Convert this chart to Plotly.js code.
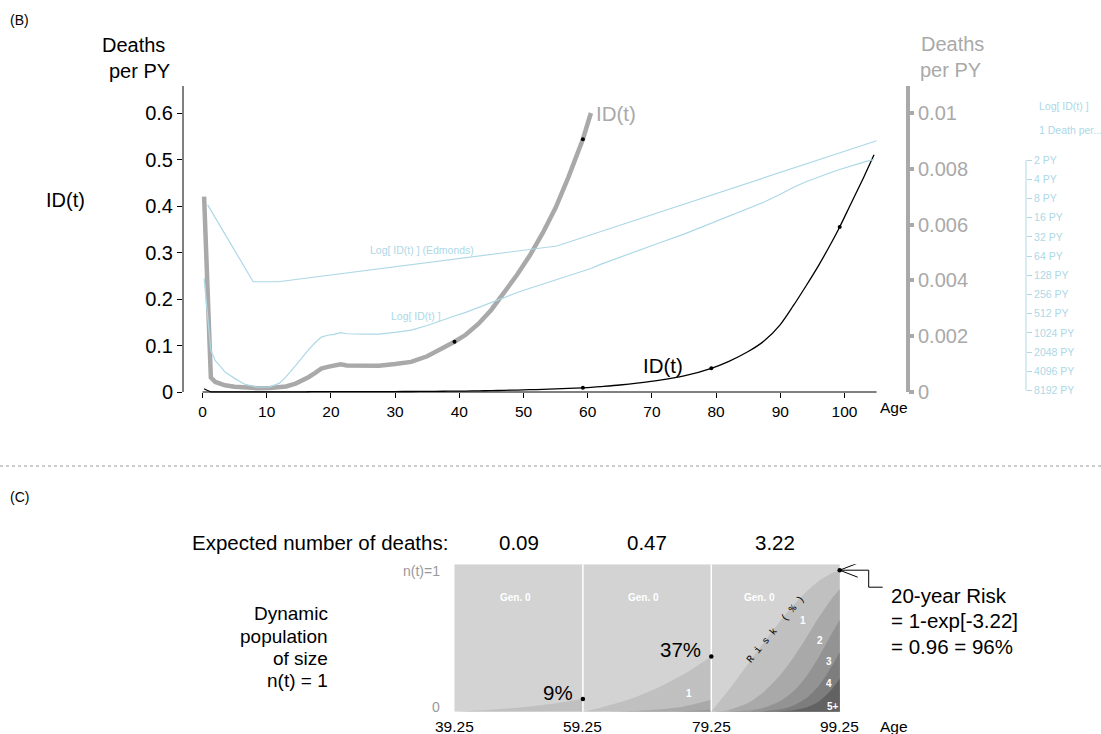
<!DOCTYPE html>
<html><head><meta charset="utf-8">
<script src="https://cdn.plot.ly/plotly-3.0.1.min.js"></script>
<style>html,body{margin:0;padding:0;background:#fff}</style>
</head><body><div id="chart" style="width:1101px;height:734px"></div>
<script>
// ---------- Panel (B) data ----------
const ages = [0.25, 1.3, 2, 3.5, 5, 6.5, 8.5, 10.5, 12, 13, 14.5, 15.5, 16.5, 17.5, 18.5, 19.5, 20.5, 21.5, 22.5, 25, 27.5, 30, 32.5, 35, 37.5, 39.25, 41, 43, 45, 47, 49, 51, 53, 55, 57, 59.25, 60.5, 62, 65, 68, 71, 75, 79.25, 82, 85, 87.5, 90, 92, 94, 96, 98, 99.25, 101, 103, 104.6];
const idPerPY = [0.0070, 0.00052, 0.00036, 0.00024, 0.00019, 0.000155, 0.000138, 0.000140, 0.000160, 0.000200, 0.00030, 0.00040, 0.00053, 0.00068, 0.00084, 0.00090, 0.00093, 0.00099, 0.00095, 0.00094, 0.00094, 0.00100, 0.00108, 0.00128, 0.00158, 0.00180, 0.00205, 0.00245, 0.00295, 0.00355, 0.00420, 0.00490, 0.00570, 0.00660, 0.00770, 0.00906, 0.0100, 0.0116, 0.0150, 0.0195, 0.0248, 0.0345, 0.0510, 0.066, 0.087, 0.110, 0.145, 0.185, 0.228, 0.273, 0.322, 0.355, 0.405, 0.462, 0.510];
const grayCurveMaxAge = 60.5;
const edmondsAge = [0.8, 7.9, 11.8, 55.2, 105];
const edmondsID = [0.099, 0.0062, 0.0062, 0.0225, 1.0];
const grayDotAges = [39.25, 59.25];
const blackDotAges = [59.25, 79.25, 99.25];
const ageTicks = [0, 10, 20, 30, 40, 50, 60, 70, 80, 90, 100];
const leftTicks = [0, 0.1, 0.2, 0.3, 0.4, 0.5, 0.6];
const leftTickText = ['0', '0.1', '0.2', '0.3', '0.4', '0.5', '0.6'];
const rightTicks = [0, 0.002, 0.004, 0.006, 0.008, 0.01];
const rightTickText = ['0', '0.002', '0.004', '0.006', '0.008', '0.01'];
const pyPerDeath = [2, 4, 8, 16, 32, 64, 128, 256, 512, 1024, 2048, 4096, 8192];

// ---------- Panel (C) data ----------
const popStart = [39.25, 59.25, 79.25];
const popTickText = ['39.25', '59.25', '79.25', '99.25'];
const expectedDeaths = ['0.09', '0.47', '3.22'];
const riskLabels = ['9%', '37%'];
const block1Age = [39.25, 41, 43, 45, 47, 49, 51, 53, 55, 57, 59.25];
const block1Gen = [
  [0, 0.0034, 0.0079, 0.0132, 0.0196, 0.0271, 0.0359, 0.0461, 0.0578, 0.0711, 0.086]
];
const block2Age = [59.25, 62, 65, 68, 71, 75, 79.25];
const block2Gen = [
  [0, 0.027, 0.064, 0.109, 0.164, 0.255, 0.375],
  [0, 0.0004, 0.0021, 0.0062, 0.0143, 0.0356, 0.081],
  [0, 0, 0.0001, 0.0003, 0.0009, 0.0034, 0.012]
];
const block3Age = [79.25, 82, 85, 87.5, 90, 92, 94, 96, 98, 99.25];
const block3Gen = [
  [0, 0.150, 0.326, 0.475, 0.616, 0.720, 0.812, 0.887, 0.939, 0.960],
  [0, 0.012, 0.060, 0.137, 0.249, 0.364, 0.498, 0.640, 0.767, 0.831],
  [0, 0.0006, 0.0077, 0.028, 0.073, 0.137, 0.236, 0.371, 0.528, 0.624],
  [0, 0, 0.0008, 0.0043, 0.0166, 0.041, 0.089, 0.176, 0.306, 0.402],
  [0, 0, 0.0001, 0.0005, 0.0031, 0.0099, 0.028, 0.070, 0.151, 0.223]
];
const genLabels3 = ['1', '2', '3', '4', '5+'];
const genLabelAge3 = [93.5, 96.2, 97.6, 97.6, 98.2];
const genLabelY3 = [0.622, 0.482, 0.339, 0.193, 0.034];
const genLabelAge2 = [75.8];
const genLabelY2 = [0.125];
const gen0LabelAge = [48.7, 68.7, 86.7];

// ---------- styling ----------
const W = 1101, H = 734;
const FONT = 'Liberation Sans, Arial, Helvetica, sans-serif';
const LB = '#add8e6', GR = '#a9a9a9';
const genColors = ['#c0c0c0', '#a9a9a9', '#939393', '#7d7d7d', '#626262'];
const PX_PER_YR = 6.42, AGE0_PX = 202.5;
const xRange = [(183 - AGE0_PX) / PX_PER_YR, (908 - AGE0_PX) / PX_PER_YR];
const Y_PX_PER_UNIT = 465, Y0_PX = 392;
const yRange = [(Y0_PX - 396) / Y_PX_PER_UNIT, (Y0_PX - 86) / Y_PX_PER_UNIT];
const y2Range = yRange.map(v => v / 60);
const LOG_PX = 19.22 / Math.log10(2); // px per decade
const y3Range = [Math.log10(0.5) - (396 - 160) / LOG_PX, Math.log10(0.5) + (160 - 86) / LOG_PX];

const traces = [];
traces.push({x: edmondsAge, y: edmondsID, xaxis: 'x', yaxis: 'y3', mode: 'lines', line: {color: LB, width: 1.2}, hoverinfo: 'skip'});
traces.push({x: ages, y: idPerPY, xaxis: 'x', yaxis: 'y3', mode: 'lines', line: {color: LB, width: 1.2}, hoverinfo: 'skip'});
const nGray = ages.filter(a => a <= grayCurveMaxAge).length;
traces.push({x: ages.slice(0, nGray), y: idPerPY.slice(0, nGray), xaxis: 'x', yaxis: 'y2', mode: 'lines', line: {color: GR, width: 4.5}, hoverinfo: 'skip'});
traces.push({x: ages, y: idPerPY, xaxis: 'x', yaxis: 'y', mode: 'lines', line: {color: '#000', width: 1.3, shape: 'spline', smoothing: 0.8}, hoverinfo: 'skip'});
traces.push({x: grayDotAges, y: grayDotAges.map(a => idPerPY[ages.indexOf(a)]), xaxis: 'x', yaxis: 'y2', mode: 'markers', marker: {color: '#000', size: 4}, hoverinfo: 'skip'});
traces.push({x: blackDotAges, y: blackDotAges.map(a => idPerPY[ages.indexOf(a)]), xaxis: 'x', yaxis: 'y', mode: 'markers', marker: {color: '#000', size: 4}, hoverinfo: 'skip'});

// Panel C
const popEnd = popStart[popStart.length - 1] + 20;
traces.push({x: [popStart[0], popEnd], y: [1, 1], xaxis: 'x2', yaxis: 'y4', mode: 'none', fill: 'tozeroy', fillcolor: '#d3d3d3', hoverinfo: 'skip'});
[[block1Age, block1Gen], [block2Age, block2Gen], [block3Age, block3Gen]].forEach(([xa, gens]) => {
  gens.forEach((g, k) => {
    traces.push({x: xa, y: g, xaxis: 'x2', yaxis: 'y4', mode: 'none', fill: 'tozeroy', fillcolor: genColors[k], line: {shape: 'spline', smoothing: 0.7, width: 0}, hoverinfo: 'skip'});
  });
});
popStart.slice(1).forEach(s => {
  traces.push({x: [s, s], y: [0, 1], xaxis: 'x2', yaxis: 'y4', mode: 'lines', line: {color: '#fff', width: 1.5}, hoverinfo: 'skip'});
});
const riskEnds = [block1Gen[0][block1Gen[0].length - 1], block2Gen[0][block2Gen[0].length - 1], block3Gen[0][block3Gen[0].length - 1]];
traces.push({x: popStart.map(s => s + 20), y: riskEnds, xaxis: 'x2', yaxis: 'y4', mode: 'markers', marker: {color: '#000', size: 4.5}, hoverinfo: 'skip', cliponaxis: false});

// ---------- annotations ----------
function A(text, xpx, ypx, size, color, xanchor, extra) {
  return Object.assign({text: text, x: xpx / W, y: 1 - ypx / H, xref: 'paper', yref: 'paper', showarrow: false,
    xanchor: xanchor || 'center', yanchor: 'middle', font: {family: FONT, size: size, color: color || '#000'}}, extra || {});
}
const anns = [
  A('(B)', 8, 20, 14, '#000', 'left'),
  A('Deaths', 133, 45, 20),
  A('per PY', 139, 70.5, 20),
  A('Deaths', 952, 44, 20, GR),
  A('per PY', 950, 69.5, 20, GR),
  A('ID(t)', 65, 200, 20),
  A('ID(t)', 616, 114, 20.5, GR),
  A('ID(t)', 663, 365, 20.5),
  A('Log[ ID(t) ] (Edmonds)', 422, 250.5, 10.5, LB),
  A('Log[ ID(t) ]', 416, 315.5, 10.5, LB),
  A('Log[ ID(t) ]', 1037, 106, 10.5, LB, 'left'),
  A('1 Death per...', 1037, 130, 10.5, LB, 'left'),
  A('Age', 878, 407, 15.5, '#000', 'left'),
  A('(C)', 8, 497, 14, '#000', 'left'),
  A('Expected number of deaths:', 320, 542.5, 20.5),
  A('Dynamic', 330, 613, 19, '#000', 'right'),
  A('population', 330, 636, 19, '#000', 'right'),
  A('of size', 330, 658, 19, '#000', 'right'),
  A('n(t) = 1', 330, 680, 19, '#000', 'right'),
  A('n(t)=1', 442, 570.5, 14, '#999', 'right'),
  A('0', 442, 706.5, 14, '#999', 'right'),
  A('Age', 878, 726.5, 15.5, '#000', 'left'),
  A('20-year Risk', 889, 595, 20.5, '#000', 'left'),
  A('= 1-exp[-3.22]', 889, 620.5, 20.5, '#000', 'left'),
  A('= 0.96 = 96%', 889, 646, 20.5, '#000', 'left')
];
popStart.concat([popEnd]).forEach((s, i) => {
  anns.push({text: popTickText[i], x: s, xref: 'x2', y: 1 - 726.5 / H, yref: 'paper', showarrow: false, xanchor: 'center', yanchor: 'middle', font: {family: FONT, size: 15.5, color: '#000'}});
});
popStart.forEach((s, i) => {
  anns.push({text: expectedDeaths[i], x: s + 10, xref: 'x2', y: 1 - 542.5 / H, yref: 'paper', showarrow: false, xanchor: 'center', yanchor: 'middle', font: {family: FONT, size: 20.5, color: '#000'}});
  anns.push({text: '<b>Gen. 0</b>', x: gen0LabelAge[i], xref: 'x2', y: 0.776, yref: 'y4', showarrow: false, font: {family: FONT, size: 10, color: '#fff'}});
});
riskLabels.forEach((t, i) => {
  anns.push({text: t, x: popStart[i] + 20, xref: 'x2', y: riskEnds[i], yref: 'y4', showarrow: false, xanchor: 'right', yanchor: 'middle', xshift: -8, yshift: 7, font: {family: FONT, size: 20.5, color: '#000'}});
});
genLabels3.forEach((t, i) => {
  anns.push({text: '<b>' + t + '</b>', x: genLabelAge3[i], xref: 'x2', y: genLabelY3[i], yref: 'y4', showarrow: false, font: {family: FONT, size: 10, color: '#fff'}});
});
genLabelAge2.forEach((a, i) => {
  anns.push({text: '<b>1</b>', x: a, xref: 'x2', y: genLabelY2[i], yref: 'y4', showarrow: false, font: {family: FONT, size: 10, color: '#fff'}});
});
const NB = '\u00a0';
const riskText = ['R', 'i', 's', 'k', NB + '(', '%', ')'].join(NB);
anns.push({text: riskText, x: 89.3, xref: 'x2', y: 0.556, yref: 'y4', showarrow: false, textangle: -50, font: {family: 'Liberation Mono, DejaVu Sans Mono, monospace', size: 10, color: '#000'}});

// ---------- shapes ----------
const shapes = [
  {type: 'line', xref: 'x', yref: 'y', x0: 0, x1: 105, y0: 0, y1: 0, line: {color: '#000', width: 1}},
  {type: 'line', xref: 'paper', yref: 'y', x0: 183 / W, x1: 183 / W, y0: 0, y1: yRange[1], line: {color: '#000', width: 1}},
  {type: 'line', xref: 'paper', yref: 'y2', x0: 908 / W, x1: 908 / W, y0: 0, y1: y2Range[1], line: {color: GR, width: 4}},
  // blue log axis line from 2 PY to 8192 PY
  {type: 'line', xref: 'paper', yref: 'paper', x0: 1026 / W, x1: 1026 / W, y0: 1 - 390.7 / H, y1: 1 - 160 / H, line: {color: LB, width: 1}},
  {type: 'line', xref: 'paper', yref: 'paper', x0: 0, x1: 1, y0: 1 - 466 / H, y1: 1 - 466 / H, line: {color: '#999', width: 1, dash: 'dot'}},
  {type: 'path', xref: 'x2', yref: 'y4', xsizemode: 'pixel', ysizemode: 'pixel', xanchor: popEnd, yanchor: riskEnds[2],
    path: 'M0,0 L18,7 M0,0 L18,-7 M0,0 L29,0 L29,-17 L43,-17', line: {color: '#000', width: 1}}
];

const layout = {
  width: W, height: H, margin: {l: 0, r: 0, t: 0, b: 0},
  paper_bgcolor: '#fff', plot_bgcolor: 'rgba(0,0,0,0)', showlegend: false, hovermode: false,
  font: {family: FONT, color: '#000'},
  xaxis: {domain: [183 / W, 908 / W], range: xRange, anchor: 'free', position: 1 - 392 / H,
    showline: false, showgrid: false, zeroline: false, ticks: 'outside', ticklen: 5, tickcolor: '#000', tickwidth: 1,
    tickvals: ageTicks, ticktext: ageTicks.map(String), tickfont: {size: 15.5, color: '#000'}},
  yaxis: {domain: [1 - 396 / H, 1 - 86 / H], range: yRange, anchor: 'x',
    showline: false, showgrid: false, zeroline: false, ticks: 'outside', ticklen: 5, tickcolor: '#000',
    tickvals: leftTicks, ticktext: leftTickText, tickfont: {size: 20, color: '#000'}},
  yaxis2: {overlaying: 'y', side: 'right', anchor: 'x', range: y2Range,
    showline: false, showgrid: false, zeroline: false, ticks: 'outside', ticklen: 5, tickwidth: 4, tickcolor: GR,
    tickvals: rightTicks, ticktext: rightTickText, tickfont: {size: 20, color: GR}},
  yaxis3: {overlaying: 'y', type: 'log', anchor: 'free', position: 1026 / W, side: 'right', range: y3Range,
    showline: false, showgrid: false, zeroline: false, ticks: 'outside', ticklen: 5, tickcolor: LB,
    tickvals: pyPerDeath.map(p => 1 / p), ticktext: pyPerDeath.map(p => p + ' PY'), tickfont: {size: 10.5, color: LB}},
  xaxis2: {domain: [183 / W, 908 / W], range: xRange, anchor: 'y4', visible: false},
  yaxis4: {domain: [1 - 711.7 / H, 1 - 564.3 / H], range: [0, 1], anchor: 'x2', visible: false},
  annotations: anns,
  shapes: shapes
};

Plotly.newPlot('chart', traces, layout, {staticPlot: true, displayModeBar: false});
</script></body></html>
